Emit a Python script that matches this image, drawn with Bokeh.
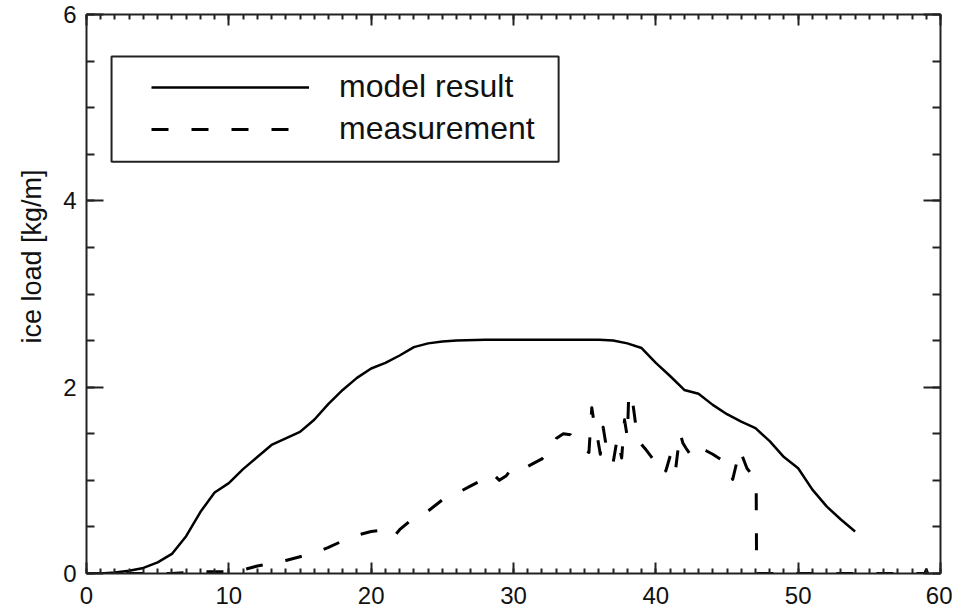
from bokeh.plotting import figure
from bokeh.models import (LinearAxis, SingleIntervalTicker, Range1d, Legend,
                          LegendItem, BoxAnnotation, Title)
from bokeh.embed import file_html
from bokeh.resources import INLINE

# ---- data ----
model_x = [0, 1, 2, 3, 4, 5, 6, 7, 8, 9, 10, 11, 12, 13, 14, 15, 16, 17, 18, 19,
           20, 21, 22, 23, 24, 25, 26, 28, 30, 32, 34, 36, 37, 38, 39, 40, 41,
           42, 43, 44, 45, 46, 47, 48, 49, 50, 51, 52, 53, 54]
model_y = [0.0, 0.0, 0.01, 0.03, 0.06, 0.12, 0.21, 0.40, 0.66, 0.87, 0.97, 1.12,
           1.25, 1.38, 1.45, 1.52, 1.65, 1.82, 1.97, 2.10, 2.20, 2.26, 2.34, 2.43,
           2.47, 2.49, 2.50, 2.51, 2.51, 2.51, 2.51, 2.51, 2.50, 2.47, 2.42, 2.26,
           2.12, 1.97, 1.93, 1.81, 1.71, 1.63, 1.56, 1.42, 1.25, 1.13, 0.90, 0.72,
           0.58, 0.45]

meas_x = [0, 2, 4, 6, 7, 8, 9, 10, 11, 12, 13, 14, 15, 16, 17, 18, 19, 20, 20.5,
          21, 21.5, 22, 23, 24, 25, 26, 27, 28, 28.5, 29, 29.5, 30, 30.5, 31, 31.5,
          32, 32.5, 33, 33.5, 34, 34.5, 35, 35.3, 35.5, 35.7, 35.9, 36.1, 36.3,
          36.5, 36.7, 37.0, 37.3, 37.6, 37.8, 38.0, 38.1, 38.4, 38.6, 38.9, 39.3,
          40.0, 40.4, 40.7, 41.1, 41.4, 41.7, 41.9, 42.1, 42.5, 42.9, 43.5, 44.0,
          44.6, 45.1, 45.4, 45.9, 46.4, 46.8, 47.05, 47.08, 50, 55, 58.9, 59.0, 59.1, 60]
meas_y = [0, 0, 0, 0, 0.01, 0.02, 0.02, 0.02, 0.04, 0.08, 0.11, 0.14, 0.18, 0.22,
          0.28, 0.35, 0.41, 0.45, 0.46, 0.41, 0.38, 0.47, 0.60, 0.67, 0.79, 0.86,
          0.94, 1.02, 1.08, 1.00, 1.05, 1.15, 1.14, 1.15, 1.19, 1.23, 1.31, 1.45,
          1.50, 1.49, 1.40, 1.33, 1.30, 1.78, 1.58, 1.46, 1.28, 1.57, 1.38, 1.35,
          1.19, 1.46, 1.24, 1.65, 1.46, 1.94, 1.81, 1.58, 1.40, 1.33, 1.19, 1.22,
          1.10, 1.31, 1.13, 1.51, 1.40, 1.35, 1.26, 1.35, 1.32, 1.28, 1.22, 1.15,
          1.01, 1.33, 1.13, 1.05, 0.95, 0.0, 0.0, 0.0, 0.0, 0.04, 0.0, 0.0]

x_range = (0, 60)
y_range = (0, 6)
y_label = "ice load [kg/m]"
labels = ["model result", "measurement"]
legend_box = dict(left=1.76, right=33.17, bottom=4.42, top=5.55)

FONT = "Liberation Sans"
AX = "#222222"

p = figure(frame_width=854, frame_height=559, output_backend="svg",
           toolbar_location=None,
           x_range=Range1d(*x_range), y_range=Range1d(*y_range),
           min_border_left=86, min_border_right=12, min_border_top=14,
           min_border_bottom=42, x_axis_type=None, y_axis_type=None)
p.outline_line_color = None
p.background_fill_color = "white"
p.border_fill_color = "white"


def style(ax, tick_in, minor_in, show_labels=True):
    ax.axis_line_color = AX
    ax.axis_line_width = 2
    ax.major_tick_line_color = AX
    ax.minor_tick_line_color = AX
    ax.major_tick_line_width = 2
    ax.minor_tick_line_width = 2
    ax.major_tick_in = tick_in
    ax.major_tick_out = 0
    ax.minor_tick_in = minor_in
    ax.minor_tick_out = 0
    ax.major_label_text_font = FONT
    ax.major_label_text_color = "#111111"
    if show_labels:
        ax.major_label_text_font_size = "24px"
    else:
        ax.major_label_text_color = None
        ax.major_label_text_font_size = "1px"
        ax.major_label_standoff = 0


xb = LinearAxis(ticker=SingleIntervalTicker(interval=10, num_minor_ticks=10))
style(xb, 11, 5)
xb.major_label_standoff = 13
p.add_layout(xb, "below")

xt = LinearAxis(ticker=SingleIntervalTicker(interval=10, num_minor_ticks=10))
style(xt, 11, 5, False)
p.add_layout(xt, "above")

yl = LinearAxis(ticker=SingleIntervalTicker(interval=2, num_minor_ticks=4))
style(yl, 17, 8)
yl.major_label_standoff = 10
p.add_layout(yl, "left")

yr = LinearAxis(ticker=SingleIntervalTicker(interval=2, num_minor_ticks=4))
style(yr, 17, 8, False)
p.add_layout(yr, "right")

r_model = p.line(model_x, model_y, line_color="black", line_width=2.5,
                 line_join="round")
r_meas = p.line(meas_x, meas_y, line_color="black", line_width=3,
                line_dash="17 23", line_join="round")

# y-axis title, sitting a little above the middle of the axis as in the original
p.add_layout(Title(text=y_label, align="right", offset=155, standoff=28,
                   text_font=FONT, text_font_size="27px",
                   text_font_style="normal", text_color="#111111"), "left")

p.add_layout(BoxAnnotation(**legend_box, fill_color=None, fill_alpha=0,
                           line_color=AX, line_width=2, line_alpha=1))

legend = Legend(items=[LegendItem(label=labels[0], renderers=[r_model]),
                       LegendItem(label=labels[1], renderers=[r_meas])],
                location=(65, 426), padding=0, margin=0, spacing=5,
                glyph_width=158, glyph_height=36, label_height=36,
                label_standoff=30, border_line_color=None,
                background_fill_alpha=0, label_text_font=FONT,
                label_text_font_size="32px", label_text_color="#111111")
p.add_layout(legend, "center")

open("out.html", "w").write(file_html(p, INLINE))
